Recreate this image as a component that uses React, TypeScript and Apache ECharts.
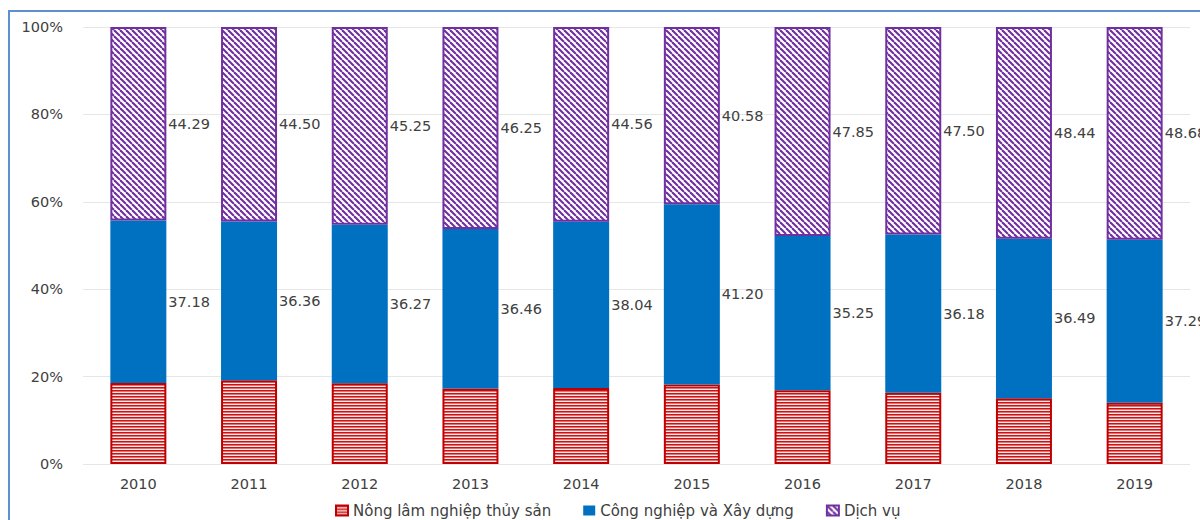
import React, { useEffect, useRef } from "react";
import * as echarts from "echarts";

// GDP structure by sector, percent of total
const years = ["2010", "2011", "2012", "2013", "2014", "2015", "2016", "2017", "2018", "2019"];
const nongLamNghiep = [18.53, 19.14, 18.48, 17.29, 17.4, 18.22, 16.9, 16.32, 15.07, 14.03];
const congNghiepXayDung = [37.18, 36.36, 36.27, 36.46, 38.04, 41.2, 35.25, 36.18, 36.49, 37.29];
const dichVu = [44.29, 44.5, 45.25, 46.25, 44.56, 40.58, 47.85, 47.5, 48.44, 48.68];
const seriesNames = ["Nông lâm nghiệp thủy sản", "Công nghiệp và Xây dựng", "Dịch vụ"];

const FONT = "DejaVu Sans";
const RED = "#C00000";
const BLUE = "#0070C0";
const PURPLE = "#7030A0";

// Horizontal red stripes
function makeStripePattern(): HTMLCanvasElement {
  const c = document.createElement("canvas");
  c.width = 6;
  c.height = 3;
  const ctx = c.getContext("2d")!;
  ctx.fillStyle = "#FCE8E8";
  ctx.fillRect(0, 0, 6, 3);
  ctx.fillStyle = "#C81414";
  ctx.fillRect(0, 0, 6, 1);
  ctx.fillStyle = "#E27272";
  ctx.fillRect(0, 1, 6, 1);
  return c;
}

// Diagonal purple hatch running down to the right
function makeHatchPattern(): HTMLCanvasElement {
  const c = document.createElement("canvas");
  const s = 6;
  c.width = s;
  c.height = s;
  const ctx = c.getContext("2d")!;
  ctx.fillStyle = "#FFFFFF";
  ctx.fillRect(0, 0, s, s);
  ctx.strokeStyle = PURPLE;
  ctx.lineWidth = 2.1;
  for (const k of [-s, 0, s]) {
    ctx.beginPath();
    ctx.moveTo(k, 0);
    ctx.lineTo(k + s, s);
    ctx.stroke();
  }
  return c;
}

export default function App() {
  const ref = useRef<HTMLDivElement>(null);

  useEffect(() => {
    if (!ref.current) return;
    const chart = echarts.init(ref.current, undefined, { renderer: "svg" });

    const stripe = { image: makeStripePattern(), repeat: "repeat" as const };
    const hatch = { image: makeHatchPattern(), repeat: "repeat" as const };

    const valueLabel = {
      show: true,
      position: "right" as const,
      distance: 2,
      color: "#404040",
      fontFamily: FONT,
      fontSize: 14.5,
      formatter: (p: any) => Number(p.value).toFixed(2),
    };

    chart.setOption({
      animation: false,
      backgroundColor: "#FFFFFF",
      textStyle: { fontFamily: FONT },
      graphic: [
        {
          type: "rect",
          silent: true,
          z: -10,
          shape: { x: 9, y: 11, width: 1230, height: 540 },
          style: { fill: "none", stroke: "#5E8FCF", lineWidth: 2 },
        },
      ],
      grid: { left: 83, right: 10, top: 27, bottom: 56, containLabel: false },
      legend: {
        data: seriesNames,
        left: 330,
        top: 498,
        icon: "rect",
        itemWidth: 12,
        itemHeight: 10,
        itemGap: 32,
        textStyle: { color: "#404040", fontSize: 15, fontFamily: FONT },
      },
      xAxis: {
        type: "category",
        data: years,
        axisLine: { show: false },
        axisTick: { show: false },
        axisLabel: { color: "#404040", fontSize: 14.5, fontFamily: FONT, margin: 12 },
      },
      yAxis: {
        type: "value",
        min: 0,
        max: 100,
        interval: 20,
        axisLine: { show: false },
        axisTick: { show: false },
        splitLine: { lineStyle: { color: "#E6E6E6", width: 1 } },
        axisLabel: {
          color: "#404040",
          fontSize: 14.5,
          fontFamily: FONT,
          margin: 20,
          formatter: "{value}%",
        },
      },
      series: [
        {
          name: seriesNames[0],
          type: "bar",
          stack: "gdp",
          barWidth: 56,
          data: nongLamNghiep,
          itemStyle: { color: stripe as any, borderColor: RED, borderWidth: 2 },
        },
        {
          name: seriesNames[1],
          type: "bar",
          stack: "gdp",
          barWidth: 56,
          data: congNghiepXayDung,
          itemStyle: { color: BLUE },
          label: valueLabel,
        },
        {
          name: seriesNames[2],
          type: "bar",
          stack: "gdp",
          barWidth: 56,
          data: dichVu,
          itemStyle: { color: hatch as any, borderColor: PURPLE, borderWidth: 2 },
          label: valueLabel,
        },
      ],
    });

    return () => chart.dispose();
  }, []);

  return (
    <div
      ref={ref}
      style={{ position: "fixed", left: 0, top: 0, width: 1200, height: 520, overflow: "hidden" }}
    />
  );
}
